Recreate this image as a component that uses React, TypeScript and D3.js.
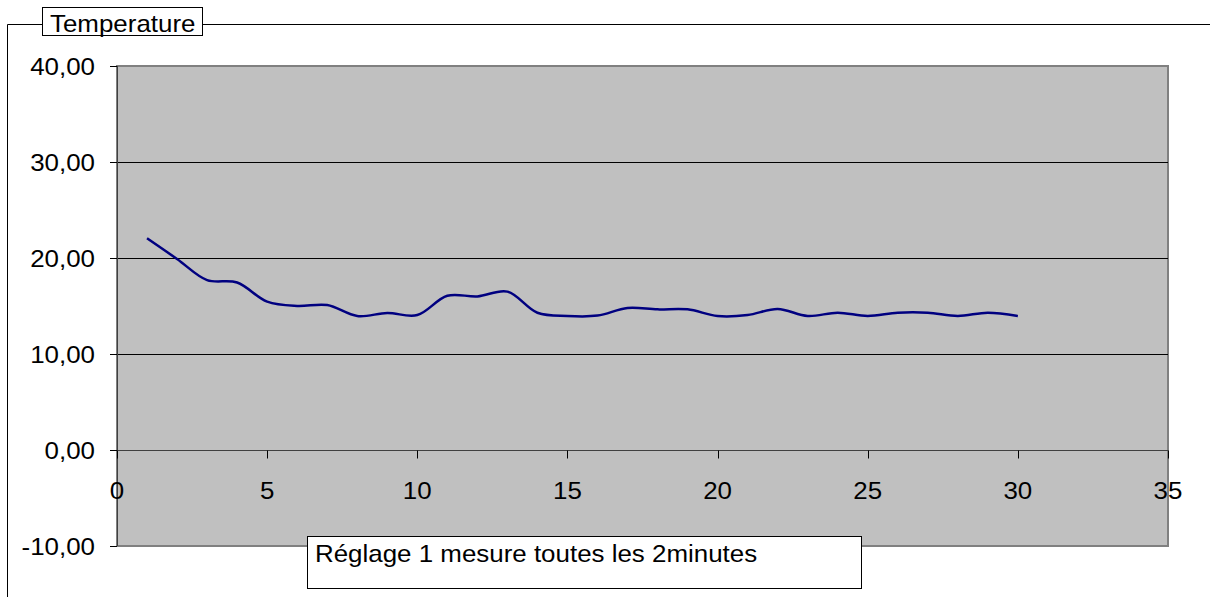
import React, { useRef, useEffect } from "react";
import * as d3 from "d3";

// mesures (une toutes les 2 minutes)
const mesures = [
  1, 2, 3, 4, 5, 6, 7, 8, 9, 10, 11, 12, 13, 14, 15, 16, 17, 18, 19, 20, 21,
  22, 23, 24, 25, 26, 27, 28, 29, 30,
];
const temperatures = [
  22.05, 19.9, 17.7, 17.45, 15.45, 15.0, 15.1, 13.96, 14.27, 14.06, 16.07,
  16.0, 16.5, 14.3, 13.96, 14.0, 14.8, 14.65, 14.65, 13.96, 14.06, 14.69,
  13.96, 14.3, 13.96, 14.3, 14.3, 13.96, 14.3, 13.96,
];
const yTicks = [-10, 0, 10, 20, 30, 40];
const xTicks = [0, 5, 10, 15, 20, 25, 30, 35];
const title = "Temperature";
const note = "Réglage 1 mesure toutes les 2minutes";

const W = 1210;
const H = 597;
const FONT = "'Liberation Sans', Arial, sans-serif";
const FS = 24;
const STRETCH = 1.08; // text in the original is a bit wider than tall

const App = () => {
  const ref = useRef(null);

  useEffect(() => {
    const svg = d3.select(ref.current);
    svg.selectAll("*").remove();

    const plot = { left: 117, top: 66, right: 1168, bottom: 546 };

    const x = d3.scaleLinear().domain([0, 35]).range([plot.left, plot.right]);
    const y = d3.scaleLinear().domain([-10, 40]).range([plot.bottom, plot.top]);

    const label = (g: any, tx: number, ty: number, anchor: string, txt: string) =>
      g
        .append("text")
        .attr("transform", `translate(${tx},${ty}) scale(${STRETCH},1)`)
        .attr("text-anchor", anchor)
        .attr("font-family", FONT)
        .attr("font-size", FS)
        .attr("fill", "#000")
        .text(txt);

    // chart area border (left + top visible)
    svg
      .append("path")
      .attr("d", `M7.5,${H} L7.5,24.5 L${W},24.5`)
      .attr("fill", "none")
      .attr("stroke", "#000")
      .attr("stroke-width", 1);

    // title box
    svg
      .append("rect")
      .attr("x", 42.5)
      .attr("y", 7.5)
      .attr("width", 160)
      .attr("height", 28)
      .attr("fill", "#fff")
      .attr("stroke", "#000");
    label(svg, 50, 32, "start", title);

    // plot area
    svg
      .append("rect")
      .attr("x", plot.left)
      .attr("y", plot.top)
      .attr("width", plot.right - plot.left)
      .attr("height", plot.bottom - plot.top)
      .attr("fill", "#c0c0c0")
      .attr("stroke", "#808080")
      .attr("stroke-width", 2);

    // gridlines
    svg
      .append("g")
      .selectAll("line")
      .data(yTicks.filter((d) => d !== -10 && d !== 40 && d !== 0))
      .enter()
      .append("line")
      .attr("x1", plot.left)
      .attr("x2", plot.right)
      .attr("y1", (d) => Math.round(y(d)) + 0.5)
      .attr("y2", (d) => Math.round(y(d)) + 0.5)
      .attr("stroke", "#000");

    // y axis
    svg
      .append("line")
      .attr("x1", plot.left + 0.5)
      .attr("x2", plot.left + 0.5)
      .attr("y1", plot.top)
      .attr("y2", plot.bottom)
      .attr("stroke", "#404040");
    const yAxis = svg.append("g");
    yAxis
      .selectAll("line")
      .data(yTicks)
      .enter()
      .append("line")
      .attr("x1", plot.left - 7)
      .attr("x2", plot.left)
      .attr("y1", (d) => Math.round(y(d)) + 0.5)
      .attr("y2", (d) => Math.round(y(d)) + 0.5)
      .attr("stroke", "#000");
    yTicks.forEach((d) =>
      label(yAxis, 95, y(d) + 9, "end", d3.format(".2f")(d).replace(".", ",").replace("−", "-"))
    );

    // x axis at y = 0
    const y0 = Math.round(y(0)) + 0.5;
    svg
      .append("line")
      .attr("x1", plot.left)
      .attr("x2", plot.right)
      .attr("y1", y0)
      .attr("y2", y0)
      .attr("stroke", "#404040");
    const xAxis = svg.append("g");
    xAxis
      .selectAll("line")
      .data(xTicks)
      .enter()
      .append("line")
      .attr("x1", (d) => Math.round(x(d)) + 0.5)
      .attr("x2", (d) => Math.round(x(d)) + 0.5)
      .attr("y1", y0)
      .attr("y2", y0 + 8)
      .attr("stroke", "#000");
    xTicks.forEach((d) => label(xAxis, x(d), 499, "middle", String(d)));

    // series
    const line = d3
      .line<number>()
      .x((_, i) => x(mesures[i]))
      .y((d) => y(d))
      .curve(d3.curveCatmullRom.alpha(0.5));
    svg
      .append("path")
      .attr("d", line(temperatures))
      .attr("fill", "none")
      .attr("stroke", "#000080")
      .attr("stroke-width", 2.5);

    // note box
    svg
      .append("rect")
      .attr("x", 307.5)
      .attr("y", 536.5)
      .attr("width", 554)
      .attr("height", 52)
      .attr("fill", "#fff")
      .attr("stroke", "#000");
    label(svg, 315, 562, "start", note);
  }, []);

  return (
    <svg
      ref={ref}
      width={W}
      height={H}
      style={{ position: "absolute", left: 0, top: 0, background: "#fff" }}
    ></svg>
  );
};

export default App;
